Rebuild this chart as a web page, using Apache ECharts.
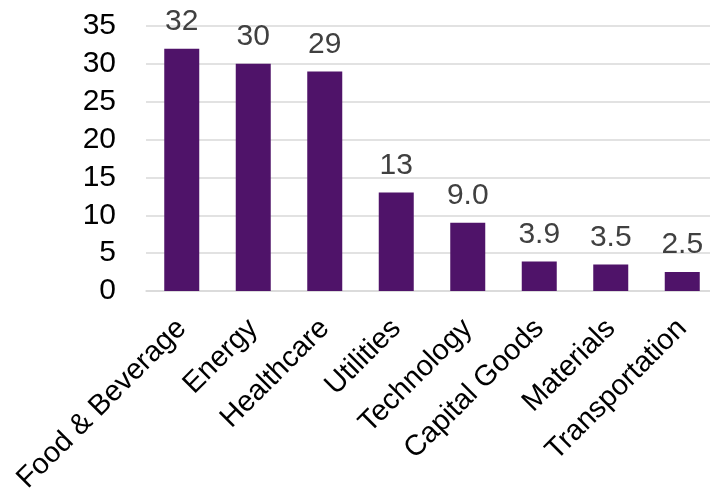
<!DOCTYPE html>
<html><head><meta charset="utf-8">
<script src="https://cdn.jsdelivr.net/npm/echarts@6/dist/echarts.min.js"></script>
<style>html,body{margin:0;padding:0;background:#fff}#c{width:710px;height:493px}</style>
</head><body><div id="c"></div>
<script>
const categories = ["Food & Beverage","Energy","Healthcare","Utilities","Technology","Capital Goods","Materials","Transportation"];
const values = [32, 30, 29, 13, 9.0, 3.9, 3.5, 2.5];
const yTicks = [0, 5, 10, 15, 20, 25, 30, 35];

const chart = echarts.init(document.getElementById('c'), null, {renderer:'canvas'});
const FONT = '"Liberation Sans", Arial, sans-serif';
chart.setOption({
  animation: false,
  grid: {left: 146, top: 26, width: 572, height: 265, containLabel: false, outerBoundsMode: 'none'},
  xAxis: {
    type: 'category', data: categories,
    axisLine: {show: true, lineStyle: {color: '#d9d9d9', width: 1.5}},
    axisTick: {show: false},
    axisLabel: {rotate: 45, interval: 0, margin: 33, color: '#000', fontSize: 29, fontFamily: FONT}
  },
  yAxis: {
    type: 'value', min: yTicks[0], max: yTicks[yTicks.length-1], interval: 5,
    axisLine: {show: false}, axisTick: {show: false},
    splitLine: {lineStyle: {color: '#d9d9d9', width: 1.5}},
    axisLabel: {margin: 30, color: '#000', fontSize: 30, fontFamily: FONT}
  },
  series: [{
    type: 'bar', data: values, barWidth: 35,
    itemStyle: {color: '#4f1369'},
    label: {show: true, position: 'top', distance: 12, color: '#404040', fontSize: 30, fontFamily: FONT,
      formatter: p => p.value >= 10 ? p.value.toFixed(0) : p.value.toFixed(1)}
  }]
});
</script></body></html>
